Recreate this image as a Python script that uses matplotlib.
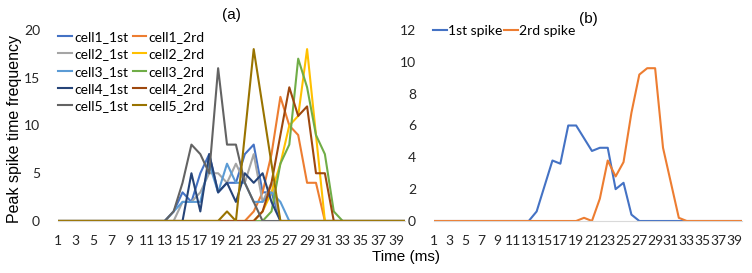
import matplotlib.pyplot as plt
import numpy as np

# time axis (ms), categories 1..40
time = np.arange(1, 41)

# values read from x=13 to x=33, zeros elsewhere
def pad(v):
    return [0]*12 + v + [0]*7

cell1_1st = pad([0, 1, 3, 2, 5, 7, 3, 4, 4, 7, 8, 3, 3, 0, 0, 0, 0, 0, 0, 0, 0])
cell1_2nd = pad([0, 0, 0, 0, 0, 0, 0, 0, 0, 0, 1, 3, 7, 13, 10, 9, 4, 4, 0, 0, 0])
cell2_1st = pad([0, 0, 2, 2, 3, 5, 5, 4, 6, 4, 7, 2, 4, 0, 0, 0, 0, 0, 0, 0, 0])
cell2_2nd = pad([0, 0, 0, 0, 0, 0, 0, 0, 0, 0, 0, 1, 3, 6, 10, 11, 18, 9, 0, 0, 0])
cell3_1st = pad([0, 1, 2, 2, 2, 6, 3, 6, 4, 4, 2, 2, 3, 2, 0, 0, 0, 0, 0, 0, 0])
cell3_2nd = pad([0, 0, 0, 0, 0, 0, 0, 0, 0, 0, 0, 0, 1, 6, 8, 17, 14, 9, 7, 1, 0])
cell4_1st = pad([0, 0, 0, 5, 1, 7, 3, 4, 2, 5, 4, 5, 2, 0, 0, 0, 0, 0, 0, 0, 0])
cell4_2nd = pad([0, 0, 0, 0, 0, 0, 0, 0, 0, 0, 0, 1, 4, 9, 14, 11, 12, 5, 5, 0, 0])
cell5_1st = pad([0, 1, 4, 8, 7, 5, 16, 8, 8, 4, 2, 0, 0, 0, 0, 0, 0, 0, 0, 0, 0])
cell5_2nd = pad([0, 0, 0, 0, 0, 0, 0, 1, 0, 9, 18, 12, 6, 0, 0, 0, 0, 0, 0, 0, 0])

spike1_mean = pad([0, 0.6, 2.2, 3.8, 3.6, 6, 6, 5.2, 4.4, 4.6, 4.6, 2, 2.4, 0.4, 0, 0, 0, 0, 0, 0, 0])
spike2_mean = pad([0, 0, 0, 0, 0, 0, 0, 0.2, 0, 1.4, 3.8, 2.8, 3.7, 6.8, 9.2, 9.6, 9.6, 4.6, 2.4, 0.2, 0])

series_a = [
    ('cell1_1st', cell1_1st, '#4472C4'),
    ('cell1_2rd', cell1_2nd, '#ED7D31'),
    ('cell2_1st', cell2_1st, '#A5A5A5'),
    ('cell2_2rd', cell2_2nd, '#FFC000'),
    ('cell3_1st', cell3_1st, '#5B9BD5'),
    ('cell3_2rd', cell3_2nd, '#70AD47'),
    ('cell4_1st', cell4_1st, '#264478'),
    ('cell4_2rd', cell4_2nd, '#9E480E'),
    ('cell5_1st', cell5_1st, '#636363'),
    ('cell5_2rd', cell5_2nd, '#997300'),
]

tick_font = 'Lato'
label_font = 'Liberation Sans'

fig = plt.figure(figsize=(7.52, 2.73), dpi=100)
ax1 = fig.add_axes([0.0771, 0.1905, 0.4614, 0.6996])
ax2 = fig.add_axes([0.5771, 0.1905, 0.4096, 0.6996])

handles = {}
for name, vals, col in series_a:
    h, = ax1.plot(time, vals, color=col, lw=1.5, label=name)
    handles[name] = h

order = ['cell1_1st', 'cell2_1st', 'cell3_1st', 'cell4_1st', 'cell5_1st',
         'cell1_2rd', 'cell2_2rd', 'cell3_2rd', 'cell4_2rd', 'cell5_2rd']
ax1.legend([handles[k] for k in order], order, ncol=2, loc='upper left',
           bbox_to_anchor=(-0.035, 1.06), frameon=False, handlelength=1.0,
           handletextpad=0.15, columnspacing=0.3, labelspacing=0.38,
           prop={'family': tick_font, 'size': 10})

ax2.plot(time, spike1_mean, color='#4472C4', lw=1.5, label='1st spike')
ax2.plot(time, spike2_mean, color='#ED7D31', lw=1.5, label='2rd spike')
ax2.legend(ncol=2, loc='upper left', bbox_to_anchor=(-0.045, 1.09), frameon=False,
           handlelength=1.0, handletextpad=0.1, columnspacing=0.1,
           prop={'family': tick_font, 'size': 10})

for ax, top, step in [(ax1, 20, 5), (ax2, 12, 2)]:
    ax.set_xlim(1, 40)
    ax.set_ylim(0, top)
    ax.set_yticks(np.arange(0, top + 1, step))
    ax.set_xticks(np.arange(1, 40, 2))
    for s in ['top', 'right', 'left']:
        ax.spines[s].set_visible(False)
    ax.spines['bottom'].set_color('#D9D9D9')
    ax.tick_params(length=0, labelsize=10, pad=10)
    ax.tick_params(axis='y', pad=13)
    for t in ax.get_xticklabels() + ax.get_yticklabels():
        t.set_fontfamily(tick_font)
        t.set_color('#262626')

ax1.set_ylabel('Peak spike time frequency', fontsize=11.5, family=label_font)
ax1.yaxis.set_label_coords(-0.105, 0.48)
ax1.set_title('(a)', fontsize=11, family=label_font, pad=8)
ax2.set_title('(b)', fontsize=11, family=label_font, pad=5)
fig.text(0.54, 0.045, 'Time (ms)', fontsize=11, family=label_font, ha='center')

fig.savefig('out.png', dpi=100)
